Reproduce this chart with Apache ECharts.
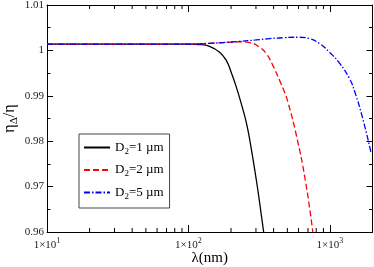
<!DOCTYPE html>
<html><head><meta charset="utf-8">
<script src="https://cdn.jsdelivr.net/npm/echarts@6/dist/echarts.min.js"></script>
<style>html,body{margin:0;padding:0;background:#fff}#c{width:374px;height:267px}</style>
</head><body><div id="c"></div>
<script>
// Data (λ in nm, ηΔ/η)
const seriesNames = ['D2=1 µm', 'D2=2 µm', 'D2=5 µm'];
const lambda1 = [10, 30, 60, 100, 120, 141, 166, 185, 201, 218, 237, 257, 275, 302, 320, 340];
const eta1    = [1.0014, 1.0014, 1.0014, 1.0014, 1.0013, 1.0009, 0.9996, 0.9978, 0.9951, 0.9919, 0.9881, 0.9840, 0.9792, 0.9714, 0.966, 0.96];
const lambda2 = [10, 30, 60, 100, 150, 200, 230, 271, 318, 355, 395, 441, 478, 505, 580, 670, 757];
const eta2    = [1.0014, 1.0014, 1.0014, 1.0014, 1.0016, 1.0018, 1.0019, 1.0017, 1.0007, 0.9993, 0.9967, 0.9934, 0.9908, 0.9886, 0.9812, 0.9714, 0.96];
const lambda5 = [10, 30, 60, 100, 150, 230, 300, 375, 470, 610, 718, 845, 993, 1169, 1375, 1494, 1706, 1960];
const eta5    = [1.0014, 1.0014, 1.0014, 1.0014, 1.0016, 1.0020, 1.0023, 1.0026, 1.0028, 1.0029, 1.0026, 1.0015, 0.9996, 0.9972, 0.9938, 0.9910, 0.985, 0.9772];
const xMinorTicks = [20,30,40,50,60,70,80,90,200,300,400,500,600,700,800,900,2000];
const yTicks = [0.96, 0.97, 0.98, 0.99, 1.00, 1.01];

const pairs = (xs, ys) => xs.map((x, i) => [x, ys[i]]);
const serif = '"Liberation Serif","DejaVu Serif",serif';

const chart = echarts.init(document.getElementById('c'));
const yLabelFmt = v => (+v.toFixed(2)).toString();
const xLabelFmt = v => '{n|1×10}{sup|' + Math.round(Math.log10(v)) + '}';

chart.setOption({
  animation: false,
  backgroundColor: '#fff',
  grid: { left: 47, right: 1.5, top: 5, bottom: 35, outerBoundsMode: 'none', containLabel: false },
  legend: {
    orient: 'vertical', left: 79, top: 134,
    padding: [7, 6, 7, 4],
    itemWidth: 26, itemHeight: 12, itemGap: 7.5,
    backgroundColor: '#fff', borderColor: '#444', borderWidth: 1, borderRadius: 0,
    itemStyle: { opacity: 0 },
    data: seriesNames,
    formatter: name => '{n|D}{sub|2}{n|' + name.slice(2) + '}',
    textStyle: {
      fontFamily: serif, fontSize: 13, color: '#000',
      rich: {
        n: { fontFamily: serif, fontSize: 13, color: '#000' },
        sub: { fontFamily: serif, fontSize: 9, color: '#000', padding: [8, 0, 0, 0] }
      }
    }
  },
  xAxis: [{
    type: 'log', logBase: 10, min: 10, max: 2000,
    name: 'λ(nm)', nameLocation: 'middle', nameGap: 19, nameMoveOverlap: false,
    nameTextStyle: { fontFamily: serif, fontSize: 15, color: '#000' },
    axisLine: { lineStyle: { color: '#000', width: 1 } },
    axisTick: { inside: true, length: 7, lineStyle: { color: '#000' } },
    splitLine: { show: false },
    axisLabel: {
      margin: 5, formatter: xLabelFmt, showMaxLabel: false,
      rich: {
        n: { fontFamily: serif, fontSize: 11, color: '#222' },
        sup: { fontFamily: serif, fontSize: 8, color: '#222', padding: [0, 0, 8, 0] }
      }
    }
  }, {
    type: 'log', logBase: 10, min: 10, max: 2000, position: 'top',
    axisLine: { lineStyle: { color: '#000', width: 1 } },
    axisTick: { inside: true, length: 7, lineStyle: { color: '#000' } },
    axisLabel: { show: false }, splitLine: { show: false }
  }],
  yAxis: [{
    type: 'value', min: 0.96, max: 1.01, interval: 0.01,
    name: '{n|η}{sub|Δ}{n|/η}', nameLocation: 'middle', nameGap: 27, nameMoveOverlap: false,
    nameTextStyle: {
      fontFamily: serif, fontSize: 16, color: '#000',
      rich: {
        n: { fontFamily: serif, fontSize: 16, color: '#000' },
        sub: { fontFamily: serif, fontSize: 11, color: '#000', padding: [9, 0, 0, 0] }
      }
    },
    axisLine: { show: true, lineStyle: { color: '#000', width: 1 } },
    axisTick: { show: true, inside: true, length: 6, lineStyle: { color: '#000' } },
    minorTick: { show: true, splitNumber: 2, length: 3.5, lineStyle: { color: '#000' } },
    splitLine: { show: false },
    axisLabel: { margin: 3, formatter: yLabelFmt, fontFamily: serif, fontSize: 11, color: '#222' }
  }, {
    type: 'value', min: 0.96, max: 1.01, interval: 0.01, position: 'right',
    axisLine: { show: true, lineStyle: { color: '#000', width: 1 } },
    axisTick: { show: true, inside: true, length: 6, lineStyle: { color: '#000' } },
    minorTick: { show: true, splitNumber: 2, length: 3.5, lineStyle: { color: '#000' } },
    splitLine: { show: false }, axisLabel: { show: false }
  }],
  series: [
    { name: seriesNames[0], type: 'line', data: pairs(lambda1, eta1), smooth: 0.5, symbol: 'none',
      lineStyle: { color: '#000', width: 1.3 }, itemStyle: { color: '#000' } },
    { name: seriesNames[1], type: 'line', data: pairs(lambda2, eta2), smooth: 0.5, symbol: 'none',
      lineStyle: { color: '#ff0000', width: 1.3, type: [6, 3] }, itemStyle: { color: '#ff0000' } },
    { name: seriesNames[2], type: 'line', data: pairs(lambda5, eta5), smooth: 0.5, symbol: 'none',
      lineStyle: { color: '#0000ff', width: 1.3, type: [6, 2, 1.5, 2] }, itemStyle: { color: '#0000ff' } },
    { type: 'custom', silent: true, clip: false, data: xMinorTicks.map(x => [x]),
      encode: { x: 0 },
      renderItem: (params, api) => {
        const p0 = api.coord([api.value(0), 0.96]);
        const p1 = api.coord([api.value(0), 1.01]);
        return { type: 'group', children: [
          { type: 'line', shape: { x1: p0[0], y1: p0[1], x2: p0[0], y2: p0[1] - 4 }, style: { stroke: '#000', lineWidth: 1 } },
          { type: 'line', shape: { x1: p1[0], y1: p1[1], x2: p1[0], y2: p1[1] + 4 }, style: { stroke: '#000', lineWidth: 1 } }
        ] };
      }
    }
  ]
});
</script></body></html>
